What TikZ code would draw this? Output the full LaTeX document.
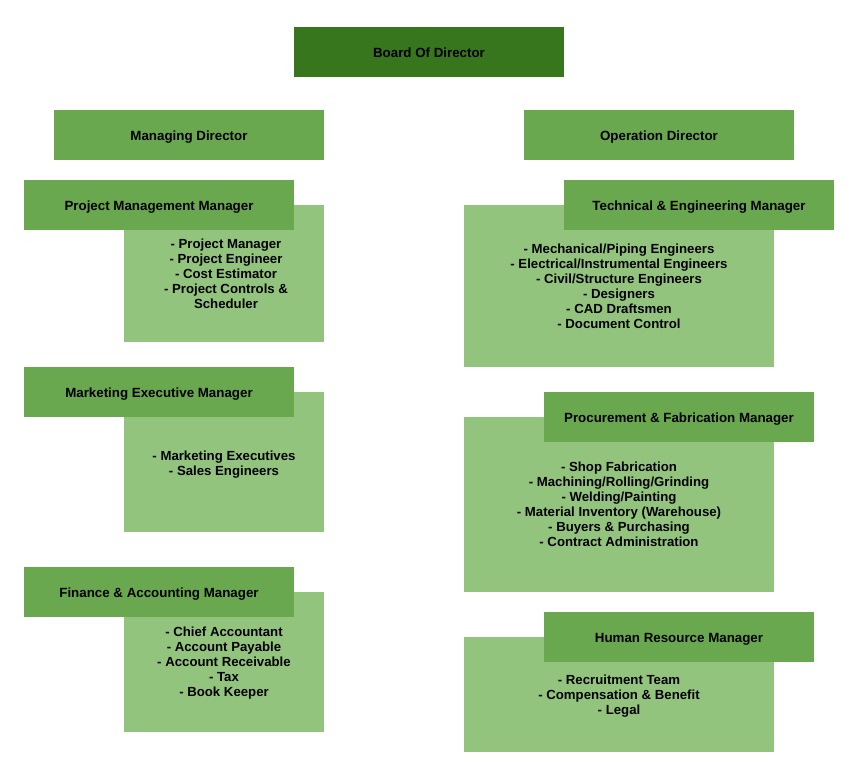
\documentclass[tikz,border=0pt]{standalone}
\usepackage{fontspec}
\setmainfont{Liberation Sans}
\definecolor{boardgreen}{HTML}{38761D}
\definecolor{mgrgreen}{HTML}{6AA84F}
\definecolor{lightgreen}{HTML}{93C47D}
\tikzset{
  px/.style={x=0.75pt,y=-0.75pt},
  hdr/.style={fill=mgrgreen,draw=none,minimum width=202.5pt,minimum height=37.5pt,inner sep=0pt,
    text height=8.7pt,text depth=0pt,
    font=\fontsize{10pt}{11.25pt}\selectfont\bfseries,text=black},
  brd/.style={hdr,fill=boardgreen},
  listtxt/.style={anchor=north,inner sep=0pt,align=center,
    font=\fontsize{9.9pt}{11.25pt}\selectfont\bfseries,text=black}
}
\begin{document}
\begin{tikzpicture}[px]
\useasboundingbox (0,0) rectangle (854,770);
% light boxes
\fill[lightgreen] (124,205) rectangle (324,342);
\fill[lightgreen] (464,205) rectangle (774,367);
\fill[lightgreen] (124,392) rectangle (324,532);
\fill[lightgreen] (464,417) rectangle (774,592);
\fill[lightgreen] (124,592) rectangle (324,732);
\fill[lightgreen] (464,637) rectangle (774,752);
% headers
\node[brd] (board) at (429,52) {Board Of Director};
\node[hdr] (md) at (189,135) {Managing Director};
\node[hdr] (od) at (659,135) {Operation Director};
\node[hdr] (pmm) at (159,205) {Project Management Manager};
\node[hdr] (tem) at (699,205) {Technical \& Engineering Manager};
\node[hdr] (mem) at (159,392) {Marketing Executive Manager};
\node[hdr] (pfm) at (679,417) {Procurement \& Fabrication Manager};
\node[hdr] (fam) at (159,592) {Finance \& Accounting Manager};
\node[hdr] (hrm) at (679,637) {Human Resource Manager};
% lists
\node[listtxt] (pmmlist) at (226,238.8) {- Project Manager\\- Project Engineer\\- Cost Estimator\\- Project Controls \&\\Scheduler};
\node[listtxt] (temlist) at (619,243.8) {- Mechanical/Piping Engineers\\- Electrical/Instrumental Engineers\\- Civil/Structure Engineers\\- Designers\\- CAD Draftsmen\\- Document Control};
\node[listtxt] (memlist) at (224,450.8) {- Marketing Executives\\- Sales Engineers};
\node[listtxt] (pfmlist) at (619,461.8) {- Shop Fabrication\\- Machining/Rolling/Grinding\\- Welding/Painting\\- Material Inventory (Warehouse)\\- Buyers \& Purchasing\\- Contract Administration};
\node[listtxt] (famlist) at (224,626.8) {- Chief Accountant\\- Account Payable\\- Account Receivable\\- Tax\\- Book Keeper};
\node[listtxt] (hrmlist) at (619,674.8) {- Recruitment Team\\- Compensation \& Benefit\\- Legal};
\end{tikzpicture}
\end{document}
